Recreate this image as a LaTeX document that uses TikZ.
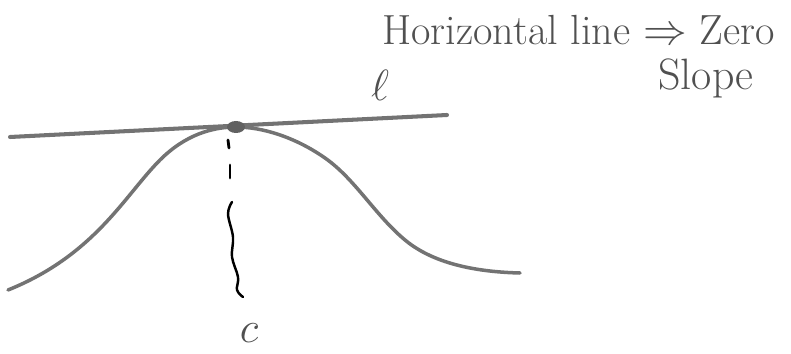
\documentclass[tikz,border=0pt]{standalone}
\usepackage{amsmath, amssymb}
\usepackage{xcolor}
\usepackage{tikz}
\usetikzlibrary{calc, positioning}

\definecolor{pencil}{gray}{0.45}

\begin{document}
\begin{tikzpicture}[x=0.02cm, y=-0.02cm, line cap=round, line join=round]

    % =================================================================
    % 1. KHUNG HINH VA TOA DO CAC DIEM CHINH
    % =================================================================
    \useasboundingbox (0,0) rectangle (791,354);

    \coordinate (Peak) at (236,127);
    \coordinate (TanStart) at (10,137);
    \coordinate (TanEnd) at (447,115);
    \coordinate (FootC) at (243,297);

    % =================================================================
    % 2. DUONG CONG HINH CHUONG
    % =================================================================
    \draw[pencil, line width=2pt] (8,290)
        .. controls (95,255) and (125,195) .. (160,160)
        .. controls (185,135) and (212,127) .. (Peak)
        .. controls (262,127) and (295,137) .. (325,158)
        .. controls (355,179) and (375,215) .. (405,240)
        .. controls (435,265) and (480,272) .. (520,273);

    % =================================================================
    % 3. TIEP TUYEN NAM NGANG VA DIEM TIEP XUC
    % =================================================================
    \draw[pencil, line width=2.3pt] (TanStart) -- (TanEnd);
    \fill[pencil!85!black] (Peak) ellipse (9 and 6);

    % =================================================================
    % 4. DUONG GIONG XUONG DIEM c
    % =================================================================
    \draw[black, line width=1.6pt] (228,140) -- (229,148);
    \draw[black, line width=1.6pt] (230,165) -- (230,178);
    \draw[black, line width=1.4pt] plot[smooth, tension=0.6] coordinates {
        (232,202) (228,214) (233,237) (232,257) (238,277) (237,290) (FootC)};

    % =================================================================
    % 5. NHAN
    % =================================================================
    \node[pencil!70!black, font=\fontsize{30}{30}\selectfont] (ell) at (380,85) {$\ell$};
    \node[pencil!70!black, font=\fontsize{28}{28}\selectfont] (labc) at (249,333) {$c$};
    \node[pencil!70!black, font=\fontsize{24}{28}\selectfont, anchor=west, inner sep=0pt]
        (note) at (382,30) {Horizontal line $\Rightarrow$ Zero};
    \node[pencil!70!black, font=\fontsize{25}{28}\selectfont, inner sep=0pt] (slope) at (706,78) {Slope};

\end{tikzpicture}
\end{document}
